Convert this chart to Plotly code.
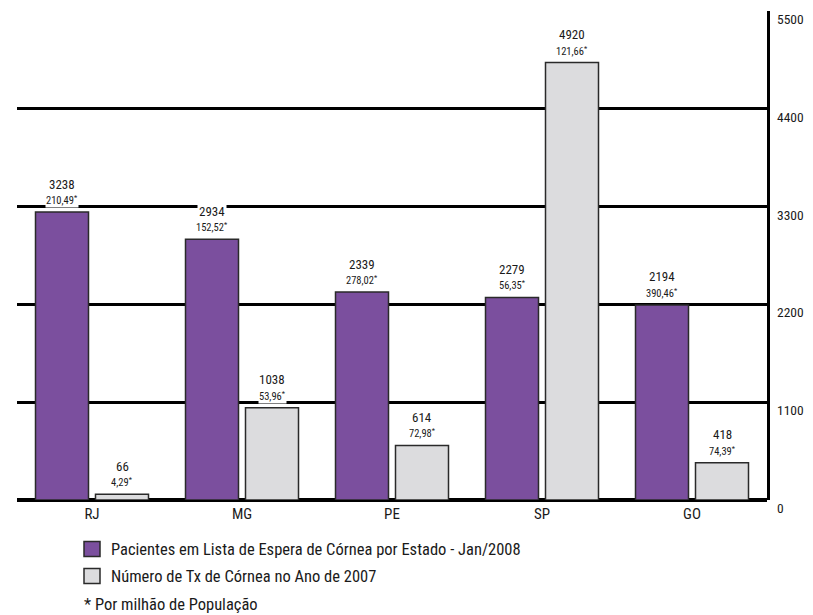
import plotly.graph_objects as go

states = ["RJ", "MG", "PE", "SP", "GO"]
waiting_list = [3238, 2934, 2339, 2279, 2194]
waiting_per_million = ["210,49", "152,52", "278,02", "56,35", "390,46"]
transplants = [66, 1038, 614, 4920, 418]
transplants_per_million = ["4,29", "53,96", "72,98", "121,66", "74,39"]
tick_values = [0, 1100, 2200, 3300, 4400, 5500]
tick_labels = ["0", "1100", "2200", "3300", "4400", "5500"]
name_waiting = "Pacientes em Lista de Espera de Córnea por Estado - Jan/2008"
name_tx = "Número de Tx de Córnea no Ano de 2007"
footnote = "* Por milhão de População"

PURPLE = "#7B4F9E"
GRAY = "#DCDCDE"
OUTLINE = "#2a2a2a"
FONT = "Roboto Condensed, DejaVu Sans Condensed, sans-serif"
TXT = "#1a1a1a"

fig = go.Figure()
fig.add_trace(go.Bar(x=states, y=waiting_list, name=name_waiting,
                     marker=dict(color=PURPLE, line=dict(color=OUTLINE, width=1.5))))
fig.add_trace(go.Bar(x=states, y=transplants, name=name_tx,
                     marker=dict(color=GRAY, line=dict(color=OUTLINE, width=1.5))))

annotations = []
for offset, vals, pm in [(-30, waiting_list, waiting_per_million), (30, transplants, transplants_per_million)]:
    for s, v, p in zip(states, vals, pm):
        annotations.append(dict(x=s, y=v, xref="x", yref="y", xshift=offset, yshift=28,
                                text=str(v), showarrow=False, bgcolor="white", borderpad=1,
                                font=dict(family=FONT, size=13, color=TXT)))
        annotations.append(dict(x=s, y=v, xref="x", yref="y", xshift=offset, yshift=12,
                                text=p + "<sup>*</sup>", showarrow=False, bgcolor="white", borderpad=0,
                                font=dict(family=FONT, size=10.5, color=TXT)))

for tv, tl in zip(tick_values, tick_labels):
    annotations.append(dict(x=1, y=tv, xref="paper", yref="y", xshift=8, yshift=-8,
                            xanchor="left", yanchor="middle", text=tl, showarrow=False,
                            font=dict(family=FONT, size=13.5, color=TXT)))

# legend (manual, placed relative to plot area: x 0..1 -> 750 px, y 0..1 -> 489 px)
PX_W, PX_H = 750.0, 489.0
shapes = []
legend_items = [(name_waiting, PURPLE, 549), (name_tx, GRAY, 576)]
for name, col, yc in legend_items:
    shapes.append(dict(type="rect", xref="paper", yref="paper",
                       x0=(84 - 17) / PX_W, x1=(100 - 17) / PX_W,
                       y0=(500 - (yc + 7.5)) / PX_H, y1=(500 - (yc - 7.5)) / PX_H,
                       fillcolor=col, line=dict(color=OUTLINE, width=1.5)))
    annotations.append(dict(x=(109 - 17) / PX_W, y=(500 - yc) / PX_H, xref="paper", yref="paper",
                            xanchor="left", yanchor="middle", text=name, showarrow=False,
                            font=dict(family=FONT, size=16.5, color=TXT)))
annotations.append(dict(x=(82 - 17) / PX_W, y=(500 - 604) / PX_H, xref="paper", yref="paper",
                        xanchor="left", yanchor="middle", text=footnote, showarrow=False,
                        font=dict(family=FONT, size=16.5, color=TXT)))

fig.update_layout(
    width=805, height=607,
    margin=dict(l=9, r=46, t=3, b=115),
    paper_bgcolor="white", plot_bgcolor="white",
    barmode="group", bargap=0.2, bargroupgap=0.1167,
    showlegend=False,
    font=dict(family=FONT, size=15, color=TXT),
    xaxis=dict(showline=False, showgrid=False, ticks="", ticklabelstandoff=3,
               tickfont=dict(size=15, family=FONT, color=TXT)),
    yaxis=dict(range=[0, 5500], tickvals=tick_values, showticklabels=False, side="right",
               showgrid=True, gridcolor="black", gridwidth=3,
               zeroline=True, zerolinecolor="black", zerolinewidth=4,
               showline=True, linecolor="black", linewidth=2.5, ticks=""),
    annotations=annotations,
    shapes=shapes,
)

fig.write_html("out.html")
